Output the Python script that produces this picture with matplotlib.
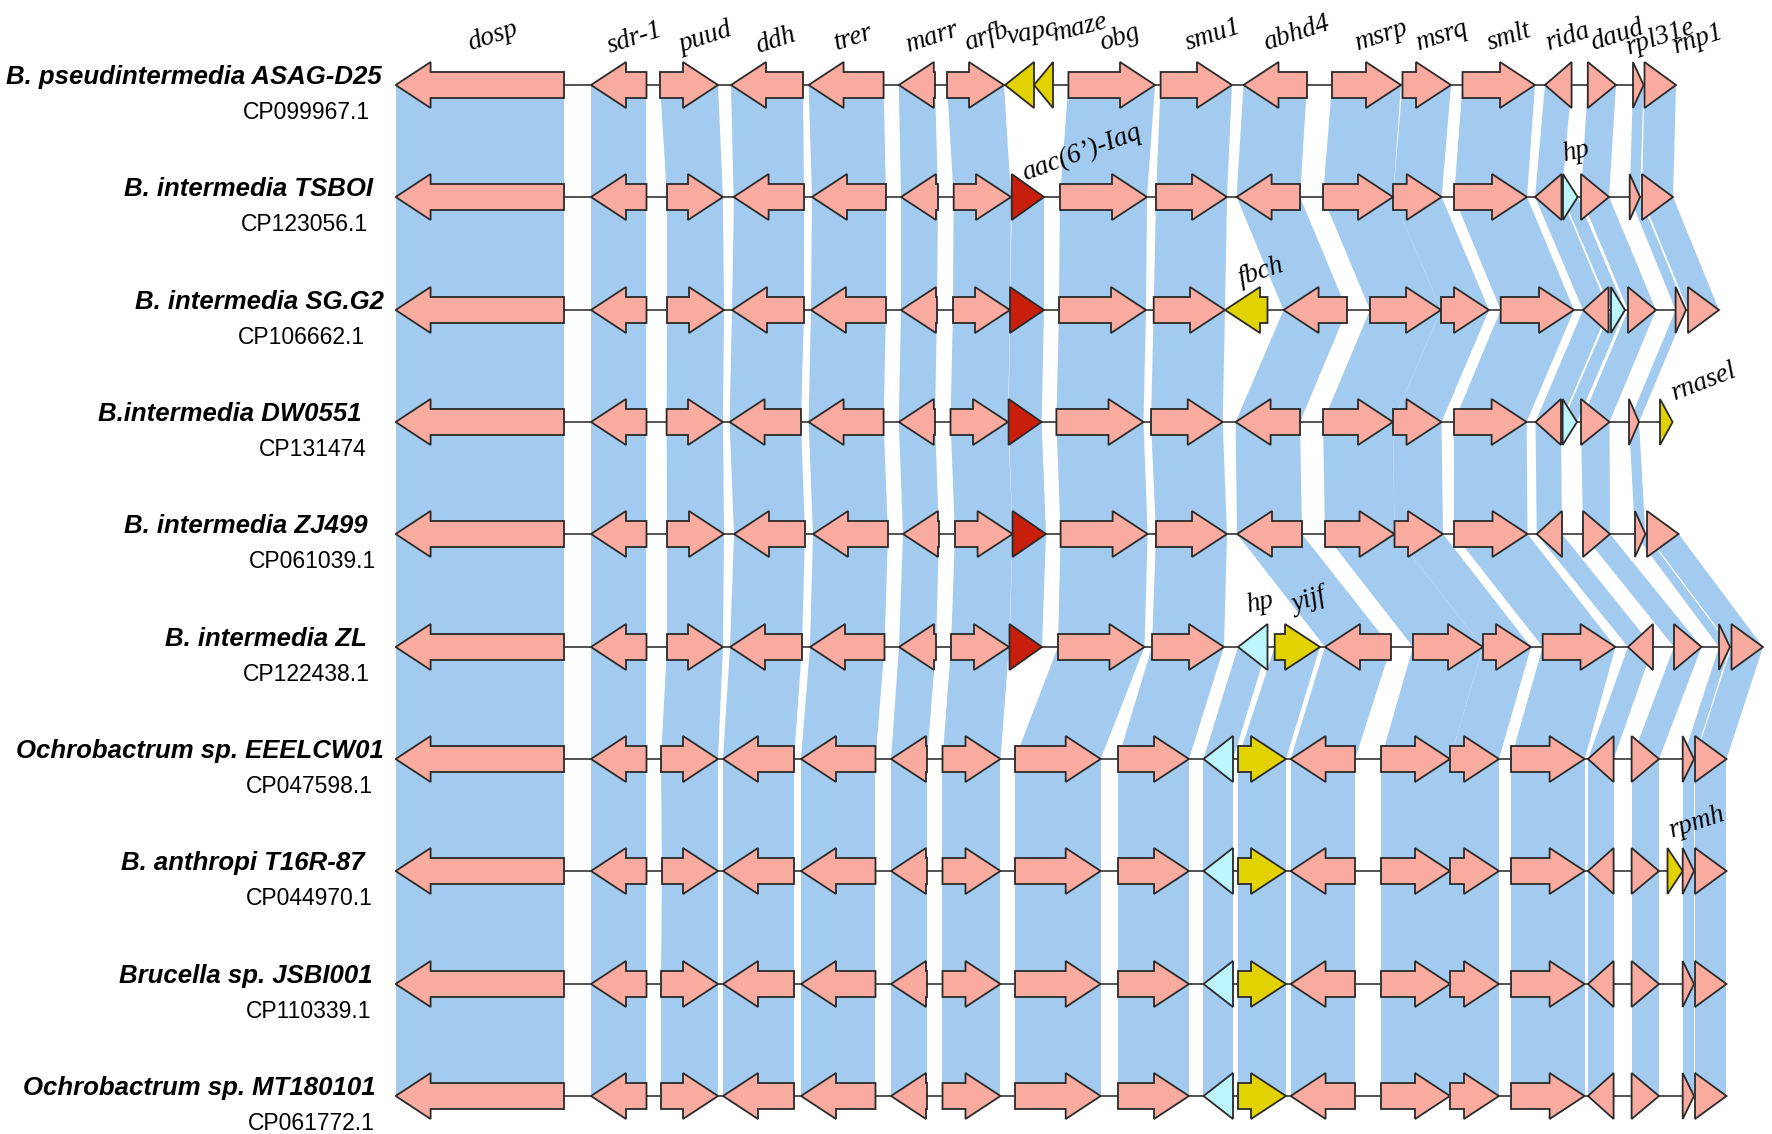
import matplotlib
matplotlib.use("Agg")
import matplotlib.pyplot as plt
from matplotlib.patches import Polygon

W, H, DPI = 1772, 1134, 100

# ---------------- data ----------------
strain_names = ["B. pseudintermedia ASAG-D25", "B. intermedia TSBOI", "B. intermedia SG.G2",
                "B.intermedia DW0551", "B. intermedia ZJ499", "B. intermedia ZL",
                "Ochrobactrum sp. EEELCW01", "B. anthropi T16R-87", "Brucella sp. JSBI001",
                "Ochrobactrum sp. MT180101"]
accessions = ["CP099967.1", "CP123056.1", "CP106662.1", "CP131474", "CP061039.1",
              "CP122438.1", "CP047598.1", "CP044970.1", "CP110339.1", "CP061772.1"]

# genes: (gene id, start, end, strand) -- positions along the locus (scaled units)
row1 = [("dosp", 395.6, 564, -1), ("sdr-1", 591, 646.5, -1), ("puud", 660, 718, 1),
        ("ddh", 731, 803, -1), ("trer", 808.6, 883.6, -1), ("marr", 898.8, 935, -1),
        ("arfb", 947, 1004, 1), ("vapc", 1005, 1034, -1), ("maze", 1034, 1053, -1),
        ("obg", 1068.4, 1155, 1), ("smu1", 1160.6, 1232, 1), ("abhd4", 1243.5, 1307, -1),
        ("msrp", 1332, 1401, 1), ("msrq", 1402.5, 1451, 1), ("smlt", 1462.5, 1535, 1),
        ("rida", 1545, 1571.6, -1), ("daud", 1587.8, 1616, 1), ("rpl31e", 1633, 1643.6, 1),
        ("rnp1", 1644.5, 1676, 1)]
row2 = [("dosp", 395.6, 564, -1), ("sdr-1", 591, 646.5, -1), ("puud", 667, 723, 1),
        ("ddh", 733.6, 804, -1), ("trer", 812, 886, -1), ("marr", 901, 938, -1),
        ("arfb", 953.7, 1011, 1), ("aac", 1011.7, 1044, 1), ("obg", 1060, 1147, 1),
        ("smu1", 1156, 1227, 1), ("abhd4", 1236.6, 1300, -1), ("msrp", 1323, 1393, 1),
        ("msrq", 1393, 1441.7, 1), ("smlt", 1454, 1527, 1), ("rida", 1535, 1561.5, -1),
        ("hp", 1563, 1577.6, 1), ("daud", 1581, 1609, 1), ("rpl31e", 1629.7, 1640, 1),
        ("rnp1", 1642, 1673, 1)]
row3 = [("dosp", 395.6, 564, -1), ("sdr-1", 591, 646.5, -1), ("puud", 667, 724, 1),
        ("ddh", 732, 804, -1), ("trer", 811, 886, -1), ("marr", 901, 937, -1),
        ("arfb", 953, 1010, 1), ("aac", 1010, 1044, 1), ("obg", 1059, 1146, 1),
        ("smu1", 1153.7, 1225, 1), ("fbch", 1225, 1267.5, -1), ("abhd4", 1283.6, 1347, -1),
        ("msrp", 1370, 1441, 1), ("msrq", 1441, 1489, 1), ("smlt", 1500.7, 1574, 1),
        ("rida", 1583, 1608.5, -1), ("hp", 1611, 1625, 1), ("daud", 1628, 1656, 1),
        ("rpl31e", 1675.6, 1686, 1), ("rnp1", 1688, 1719, 1)]
row4 = [("dosp", 395.6, 564, -1), ("sdr-1", 591, 646.5, -1), ("puud", 666.6, 723, 1),
        ("ddh", 729.6, 801, -1), ("trer", 808.6, 883.6, -1), ("marr", 898.8, 935, -1),
        ("arfb", 950.5, 1008, 1), ("aac", 1008.6, 1041.6, 1), ("obg", 1056.4, 1143.5, 1),
        ("smu1", 1151, 1222.7, 1), ("abhd4", 1235.6, 1300, -1), ("msrp", 1323, 1393, 1),
        ("msrq", 1393, 1441.5, 1), ("smlt", 1454, 1526.6, 1), ("rida", 1535.5, 1561, -1),
        ("hp", 1562.6, 1577, 1), ("daud", 1581, 1609.5, 1), ("rpl31e", 1629, 1639, 1),
        ("rnasel", 1660, 1672.6, 1)]
row5 = [("dosp", 395.6, 564, -1), ("sdr-1", 591, 646.5, -1), ("puud", 667, 724, 1),
        ("ddh", 734, 805, -1), ("trer", 813, 888, -1), ("marr", 903, 939, -1),
        ("arfb", 955, 1012.6, 1), ("aac", 1012.6, 1046, 1), ("obg", 1060.6, 1147.6, 1),
        ("smu1", 1156, 1227, 1), ("abhd4", 1237, 1302, -1), ("msrp", 1325, 1394.5, 1),
        ("msrq", 1394.5, 1443, 1), ("smlt", 1454, 1527.5, 1), ("rida", 1536.7, 1562, -1),
        ("daud", 1583, 1610, 1), ("rpl31e", 1635, 1645.4, 1), ("rnp1", 1647, 1678.6, 1)]
row6 = [("dosp", 395.6, 564, -1), ("sdr-1", 591, 646.5, -1), ("puud", 667, 723, 1),
        ("ddh", 730, 802, -1), ("trer", 810, 884.5, -1), ("marr", 899, 936, -1),
        ("arfb", 951, 1009, 1), ("aac", 1009.5, 1042, 1), ("obg", 1058, 1144.5, 1),
        ("smu1", 1152, 1224, 1), ("hp2", 1238, 1267.5, -1), ("yijf", 1274.7, 1320, 1),
        ("abhd4", 1325, 1391, -1), ("msrp", 1413, 1483, 1), ("msrq", 1483, 1531, 1),
        ("smlt", 1542.7, 1615.5, 1), ("rida", 1628, 1653, -1), ("daud", 1674, 1701.6, 1),
        ("rpl31e", 1719, 1730, 1), ("rnp1", 1731.5, 1763, 1)]
row7 = [("dosp", 395.6, 564, -1), ("sdr-1", 591, 646.5, -1), ("puud", 661, 718, 1),
        ("ddh", 723, 794, -1), ("trer", 801, 875.5, -1), ("marr", 891, 927, -1),
        ("arfb", 942.5, 1000.5, 1), ("obg", 1015, 1100.7, 1), ("smu1", 1118, 1189, 1),
        ("hp2", 1203.5, 1233, -1), ("yijf", 1238, 1286, 1), ("abhd4", 1290.6, 1355, -1),
        ("msrp", 1381, 1450, 1), ("msrq", 1450, 1499, 1), ("smlt", 1511, 1584.6, 1),
        ("rida", 1588, 1613.6, -1), ("daud", 1631.6, 1659, 1), ("rpl31e", 1682.7, 1694, 1),
        ("rnp1", 1695, 1726.5, 1)]
row8 = [("dosp", 395.6, 564, -1), ("sdr-1", 591, 646.5, -1), ("puud", 662, 718, 1),
        ("ddh", 723, 794, -1), ("trer", 801, 875.5, -1), ("marr", 891, 927, -1),
        ("arfb", 942.5, 1000.5, 1), ("obg", 1015, 1100.7, 1), ("smu1", 1118, 1189, 1),
        ("hp2", 1203.5, 1233, -1), ("yijf", 1238, 1286, 1), ("abhd4", 1290.6, 1355, -1),
        ("msrp", 1381, 1450, 1), ("msrq", 1450, 1499, 1), ("smlt", 1511, 1584.6, 1),
        ("rida", 1588, 1613.6, -1), ("daud", 1631.6, 1659, 1), ("rpmh", 1667.5, 1682.7, 1),
        ("rpl31e", 1682.7, 1694, 1), ("rnp1", 1695, 1726.5, 1)]
row9 = [("dosp", 395.6, 564, -1), ("sdr-1", 591, 646.5, -1), ("puud", 661, 718, 1),
        ("ddh", 723, 794, -1), ("trer", 801, 875.5, -1), ("marr", 891, 927, -1),
        ("arfb", 942.5, 1000.5, 1), ("obg", 1015, 1100.7, 1), ("smu1", 1118, 1189, 1),
        ("hp2", 1203.5, 1233, -1), ("yijf", 1238, 1286, 1), ("abhd4", 1290.6, 1355, -1),
        ("msrp", 1381, 1450, 1), ("msrq", 1450, 1499, 1), ("smlt", 1511, 1584.6, 1),
        ("rida", 1588, 1613.6, -1), ("daud", 1631.6, 1659, 1), ("rpl31e", 1682.7, 1694, 1),
        ("rnp1", 1695, 1726.5, 1)]
row10 = [("dosp", 395.6, 564, -1), ("sdr-1", 591, 646.5, -1), ("puud", 661, 718, 1),
         ("ddh", 723, 794, -1), ("trer", 801, 875.5, -1), ("marr", 891, 927, -1),
         ("arfb", 942.5, 1000.5, 1), ("obg", 1015, 1100.7, 1), ("smu1", 1118, 1189, 1),
         ("hp2", 1203.5, 1233, -1), ("yijf", 1238, 1286, 1), ("abhd4", 1290.6, 1355, -1),
         ("msrp", 1381, 1450, 1), ("msrq", 1450, 1499, 1), ("smlt", 1511, 1584.6, 1),
         ("rida", 1588, 1613.6, -1), ("daud", 1631.6, 1659, 1), ("rpl31e", 1682.7, 1694, 1),
         ("rnp1", 1695, 1726.5, 1)]
rows = [row1, row2, row3, row4, row5, row6, row7, row8, row9, row10]

# genes with no homolog links drawn
unlinked = {"vapc", "maze", "fbch", "rnasel", "rpmh"}
yellow_genes = {"vapc", "maze", "fbch", "rnasel", "rpmh", "yijf"}
red_genes = {"aac"}
cyan_genes = {"hp", "hp2"}

# gene labels: (row index, gene id, text)
gene_labels = [(0, g[0], g[0]) for g in row1] + [
    (1, "aac", "aac(6\u2019)-Iaq"), (1, "hp", "hp"), (2, "fbch", "fbch"),
    (3, "rnasel", "rnasel"), (5, "hp2", "hp"), (5, "yijf", "yijf"), (7, "rpmh", "rpmh")]

# ---------------- layout / style ----------------
row_y = [85, 197, 310, 422, 534, 647, 759, 871, 984, 1096]
name_right = [382, 373, 384, 362, 368, 367, 384, 365, 373, 376]
acc_right = [370, 368, 365, 367, 376, 370, 373, 373, 371, 375]
label_offsets = {  # (dx, dy, rotation) of label baseline-left from gene center / row line
    (0, "vapc"): (-11, -41, 11), (0, "maze"): (11, -44, 14), (0, "marr"): (-9, -33, 18),
    (0, "arfb"): (-8, -35, 19), (0, "rpl31e"): (-9, -31, 18), (0, "rnp1"): (16, -32, 18),
    (0, "sdr-1"): (-9, -32, 18), (0, "ddh"): (-9, -32, 18), (0, "puud"): (-7, -33, 18),
    (1, "aac"): (-3, -17, 20), (1, "hp"): (-7, -36, 12), (2, "fbch"): (-5, -25, 18),
    (3, "rnasel"): (9, -22, 21), (5, "hp2"): (-5, -35, 12), (5, "yijf"): (-3, -35, 18),
    (7, "rpmh"): (-3, -34, 18),
}
PINK, RED, YELLOW, CYAN = "#F9AB9F", "#C81E0C", "#E2D200", "#BDF5FC"
BAND = "#A3CBEF"
EDGE = "#2A2A2A"
BODY, HEAD_H, HEAD_L = 13, 23, 35


def gene_color(gid):
    if gid in red_genes:
        return RED
    if gid in yellow_genes:
        return YELLOW
    if gid in cyan_genes:
        return CYAN
    return PINK


def gene_shape(s, e, strand, y):
    L = e - s
    hl = min(HEAD_L, L)
    if strand > 0:
        if hl >= L:
            return [(s, y - HEAD_H), (e, y), (s, y + HEAD_H)]
        b = e - hl
        return [(s, y - BODY), (b, y - BODY), (b, y - HEAD_H), (e, y),
                (b, y + HEAD_H), (b, y + BODY), (s, y + BODY)]
    else:
        if hl >= L:
            return [(e, y - HEAD_H), (s, y), (e, y + HEAD_H)]
        b = s + hl
        return [(e, y - BODY), (b, y - BODY), (b, y - HEAD_H), (s, y),
                (b, y + HEAD_H), (b, y + BODY), (e, y + BODY)]


fig = plt.figure(figsize=(W / DPI, H / DPI), dpi=DPI)
ax = fig.add_axes([0, 0, 1, 1])
ax.set_xlim(0, W)
ax.set_ylim(H, 0)
ax.axis("off")

# homology bands between adjacent rows
for i in range(len(rows) - 1):
    upper = {g[0]: g for g in rows[i]}
    for g in rows[i + 1]:
        gid = g[0]
        if gid in unlinked or gid not in upper:
            continue
        u = upper[gid]
        y1, y2 = row_y[i], row_y[i + 1]
        ax.add_patch(Polygon([(u[1], y1), (u[2], y1), (g[2], y2), (g[1], y2)],
                             closed=True, facecolor=BAND, edgecolor="none", zorder=1))

# backbones and genes
for i, row in enumerate(rows):
    y = row_y[i]
    x0 = min(g[1] for g in row)
    x1 = max(g[2] for g in row)
    ax.plot([x0, x1], [y, y], color="#444444", lw=1.3, zorder=2, solid_capstyle="butt")
    for gid, s, e, strand in row:
        ax.add_patch(Polygon(gene_shape(s, e, strand, y), closed=True,
                             facecolor=gene_color(gid), edgecolor=EDGE, lw=1.3,
                             joinstyle="miter", zorder=3))

# gene labels
for ri, gid, txt in gene_labels:
    g = [x for x in rows[ri] if x[0] == gid][0]
    cx = (g[1] + g[2]) / 2
    dx, dy, rot = label_offsets.get((ri, gid), (-9, -35, 18))
    ax.text(cx + dx, row_y[ri] + dy, txt, family="Liberation Serif", style="italic",
            fontsize=19.5, rotation=rot, rotation_mode="anchor", ha="left", va="baseline",
            zorder=5)

# strain labels
for i in range(len(rows)):
    ax.text(name_right[i], row_y[i] - 1, strain_names[i], family="Liberation Sans",
            weight="bold", style="italic", fontsize=18.5, ha="right", va="baseline")
    ax.text(acc_right[i], row_y[i] + 34, accessions[i], family="Liberation Sans",
            fontsize=16.5, ha="right", va="baseline")

fig.savefig("out.png", dpi=DPI)
